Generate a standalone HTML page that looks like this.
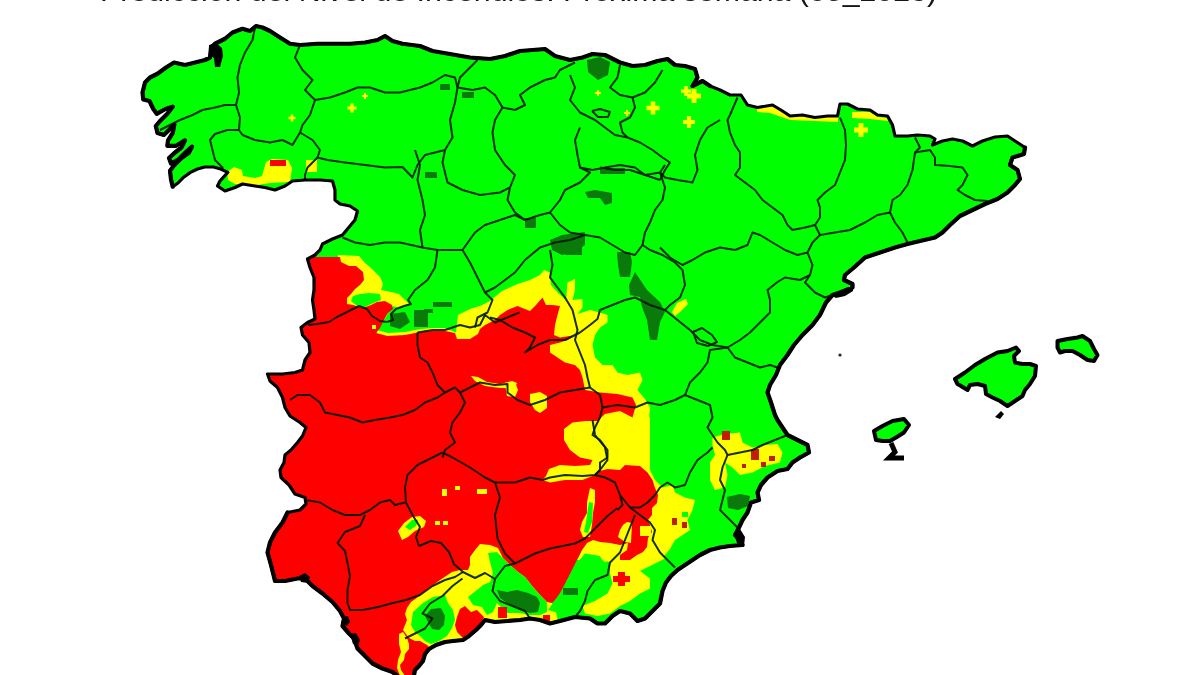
<!DOCTYPE html>
<html><head><meta charset="utf-8"><title>Mapa</title>
<style>html,body{margin:0;padding:0;background:#fff}body{width:1200px;height:675px;overflow:hidden;position:relative;font-family:"Liberation Sans",sans-serif}#t{position:absolute;left:100px;top:-25.2px;font-size:30.3px;line-height:32px;color:#151515;white-space:nowrap;letter-spacing:0px}svg{position:absolute;left:0;top:0}</style></head><body>
<div id="t">Predicción del Nivel de Incendios. Próxima semana (05_2023)</div>
<svg width="1200" height="675" viewBox="0 0 1200 675">
<defs><clipPath id="c"><polygon points="142.5,92.5 145,82.5 150,77.5 157.5,73.75 166,67.5 174,62.5 185,65 195,62.5 205,60 210,57.5 211,47.5 215,43.75 225,38.75 232.5,32.5 242.5,28.75 250,31 256,26 262.5,27.5 270,31 280,37.5 290,43.75 300,45 317.5,43.75 335,43.75 350,43.75 365,42.5 377.5,40 385,36 392.5,41 402.5,43.75 420,46 432.5,51 450,54 470,57.5 490,59 505,56 520,51 532.5,50 545,49 555,56 570,60 582.5,57.5 592.5,54 605,55 620,62.5 632.5,66 645,65 657.5,61 667.5,59 675,65 685,66 695,69 697.5,77.5 692.5,86 702.5,81 710,86 720,90 730,95 741,95 747.5,105 757.5,107.5 772.5,105 782.5,111 790,116 802.5,115 815,117.5 827.5,116 837.5,116 840,104 847.5,104 857.5,109 870,110 877.5,115 887.5,116 892.5,125 895,136 907.5,136 917.5,135 930,136 935,139 932.5,145 942.5,141 952.5,139 962.5,141 972.5,146 982.5,141 995,137 1007.5,136 1015,141 1025,147.5 1024,154 1012.5,157.5 1010,165 1017.5,170 1020,179 1015,185 1007.5,192.5 997.5,199 985,204 972.5,210 960,216 950,225 942.5,232.5 935,237.5 920,241 907.5,244 895,247.5 880,252.5 865,257.5 854,267.5 845,275 844,280 852.5,284 852.5,287.5 840,292.5 832.5,295 826,302.5 820,315 812.5,325 802.5,335 794,345 787.5,355 780,365 776,375 770,385 767.5,392.5 771,402.5 775,415 777.5,420 782.5,427.5 787.5,435 797.5,440 807.5,445 809,452.5 800,457.5 792.5,462.5 787.5,469 777.5,471 767.5,477.5 761,485 757.5,492.5 759,500 751,502.5 747.5,512.5 742.5,520 739,527.5 735,535 740,540 742.5,545 730,546 720,547.5 710,550 700,555 692.5,560 685,565 677.5,570 671,576 666,582.5 662.5,591 660,603.5 652.5,611 645,618.5 637.5,621 630,613.5 620,611 612.5,616 605,623.5 597.5,623.5 590,618.5 575,617 560,621 550,623.5 540,620 530,618.5 520,620 507.5,621 495,622 485,620 481,625 476,630 469,636 463,640 453,641 445,642 436,645 429,649 425,654 423,661 419,666 415,670 413,680 402.5,680 392.5,672 382.5,668.5 372.5,663.5 365,656 357.5,648.5 354,638.5 349,633.5 342.5,626 344,618.5 340,611 332.5,602 322.5,593.5 312.5,586 305,578.5 297.5,578.5 285,581 275,581 271,565 267.5,552.5 270,542.5 275,532.5 282.5,522.5 287.5,512.5 300,510 306,504 305,497.5 295,494 289,485 281,477.5 280,470 284,462.5 285,455 291,450 297.5,442.5 302.5,436 306,427.5 300,422.5 290,416 285,407.5 282.5,397.5 277.5,387.5 270,381 267.5,374 282.5,374 295,372.5 302.5,370 305,360 310,352.5 309,342.5 302.5,335 301,327.5 307.5,322.5 315,319 314,310 312.5,300 314,290 314,277.5 310,267.5 307.5,259 315,255 320,250 322.5,244 332.5,239 342.5,235 350,226 355,220 357.5,211 350,206 340,204 335,200 335,190 332.5,181 320,180 305,180 292.5,181 285,186 275,190 265,187.5 255,186 242.5,184 235,187.5 225,191 217.5,186 220,181 227.8,172.4 220.7,169 213.5,167 204.7,167 197.5,169 190.4,172.4 183,177.8 178,183 172.7,186.7 171,179.5 170,170.7 174.4,165 181.5,158 188.7,153 192,146.7 187,151 178,160 171,163.5 169,158 174.4,153 181.5,147.5 185,140.4 176,145.8 167.3,145.8 168,140.4 172.7,133 174.4,124.4 169,130 163.8,135 157.5,133 155.8,126 160,121 167.3,113.8 172.7,106.7 165.5,109 156.7,113.8 153,108.5 149.5,101 143.3,99.5"/></clipPath></defs>
<polygon points="142.5,92.5 145,82.5 150,77.5 157.5,73.75 166,67.5 174,62.5 185,65 195,62.5 205,60 210,57.5 211,47.5 215,43.75 225,38.75 232.5,32.5 242.5,28.75 250,31 256,26 262.5,27.5 270,31 280,37.5 290,43.75 300,45 317.5,43.75 335,43.75 350,43.75 365,42.5 377.5,40 385,36 392.5,41 402.5,43.75 420,46 432.5,51 450,54 470,57.5 490,59 505,56 520,51 532.5,50 545,49 555,56 570,60 582.5,57.5 592.5,54 605,55 620,62.5 632.5,66 645,65 657.5,61 667.5,59 675,65 685,66 695,69 697.5,77.5 692.5,86 702.5,81 710,86 720,90 730,95 741,95 747.5,105 757.5,107.5 772.5,105 782.5,111 790,116 802.5,115 815,117.5 827.5,116 837.5,116 840,104 847.5,104 857.5,109 870,110 877.5,115 887.5,116 892.5,125 895,136 907.5,136 917.5,135 930,136 935,139 932.5,145 942.5,141 952.5,139 962.5,141 972.5,146 982.5,141 995,137 1007.5,136 1015,141 1025,147.5 1024,154 1012.5,157.5 1010,165 1017.5,170 1020,179 1015,185 1007.5,192.5 997.5,199 985,204 972.5,210 960,216 950,225 942.5,232.5 935,237.5 920,241 907.5,244 895,247.5 880,252.5 865,257.5 854,267.5 845,275 844,280 852.5,284 852.5,287.5 840,292.5 832.5,295 826,302.5 820,315 812.5,325 802.5,335 794,345 787.5,355 780,365 776,375 770,385 767.5,392.5 771,402.5 775,415 777.5,420 782.5,427.5 787.5,435 797.5,440 807.5,445 809,452.5 800,457.5 792.5,462.5 787.5,469 777.5,471 767.5,477.5 761,485 757.5,492.5 759,500 751,502.5 747.5,512.5 742.5,520 739,527.5 735,535 740,540 742.5,545 730,546 720,547.5 710,550 700,555 692.5,560 685,565 677.5,570 671,576 666,582.5 662.5,591 660,603.5 652.5,611 645,618.5 637.5,621 630,613.5 620,611 612.5,616 605,623.5 597.5,623.5 590,618.5 575,617 560,621 550,623.5 540,620 530,618.5 520,620 507.5,621 495,622 485,620 481,625 476,630 469,636 463,640 453,641 445,642 436,645 429,649 425,654 423,661 419,666 415,670 413,680 402.5,680 392.5,672 382.5,668.5 372.5,663.5 365,656 357.5,648.5 354,638.5 349,633.5 342.5,626 344,618.5 340,611 332.5,602 322.5,593.5 312.5,586 305,578.5 297.5,578.5 285,581 275,581 271,565 267.5,552.5 270,542.5 275,532.5 282.5,522.5 287.5,512.5 300,510 306,504 305,497.5 295,494 289,485 281,477.5 280,470 284,462.5 285,455 291,450 297.5,442.5 302.5,436 306,427.5 300,422.5 290,416 285,407.5 282.5,397.5 277.5,387.5 270,381 267.5,374 282.5,374 295,372.5 302.5,370 305,360 310,352.5 309,342.5 302.5,335 301,327.5 307.5,322.5 315,319 314,310 312.5,300 314,290 314,277.5 310,267.5 307.5,259 315,255 320,250 322.5,244 332.5,239 342.5,235 350,226 355,220 357.5,211 350,206 340,204 335,200 335,190 332.5,181 320,180 305,180 292.5,181 285,186 275,190 265,187.5 255,186 242.5,184 235,187.5 225,191 217.5,186 220,181 227.8,172.4 220.7,169 213.5,167 204.7,167 197.5,169 190.4,172.4 183,177.8 178,183 172.7,186.7 171,179.5 170,170.7 174.4,165 181.5,158 188.7,153 192,146.7 187,151 178,160 171,163.5 169,158 174.4,153 181.5,147.5 185,140.4 176,145.8 167.3,145.8 168,140.4 172.7,133 174.4,124.4 169,130 163.8,135 157.5,133 155.8,126 160,121 167.3,113.8 172.7,106.7 165.5,109 156.7,113.8 153,108.5 149.5,101 143.3,99.5" fill="#00ff00"/>
<g clip-path="url(#c)">
<g fill="#ffff00">
<polygon points="338,255 359,256 364,262 372,269 380,277 383,284 381,290 391,292 399,294 405,300 409,304 404,306 399,308 393,306 375,334 340,320"/>
<polygon points="455,340 458,315 470,309 480,306 490,301 502,291 517.5,284 530,280 540,275 544,270 550,272.5 551,285 558,293 566,300 567.5,282.5 575,279 575,290 572.5,300 582.5,299 582.5,307.5 577.5,314 590,310 600,312.5 607.5,315 607.5,322.5 600,327.5 595,335 592.5,345 595,357.5 602.5,365 612.5,365 617.5,372.5 627.5,375 640,372.5 642.5,380 637.5,390 645,399 650,407.5 649,420 650,435 649,455 650,470 655,480 662.5,487.5 672.5,485 675,492.5 685,497.5 695,500 692.5,510 687.5,520 690,530 682.5,535 675,540 670,549 665,555 662,558 657.5,553.5 665,558.5 650,566 640,571 650,578.5 650,588.5 640,593.5 630,601 620,606 610,613.5 597.5,616 585,613.5 582.5,606 595,601 607.5,593.5 612.5,583.5 610,573.5 610,563 580,540 560,450 500,350"/>
<polygon points="552,603 547,600 540,593 533,585 525,575 518,570 510,563 503,556 498,546 490,543 480,542 474,549 468,557 468,568 460,568 452,570 443,576 433,583 425,589 418,595 410,600 405,608 403,614 405,620 403,625 401,630 400,640 440,660 500,640 560,630 556,612"/>
<polygon points="587,543 600,540 612,543 622,545 628,543 627,550 620,555 612,560 605,562 598,556 585,554 580,560 577,560 582,550"/>
<polygon points="712.5,437.5 725,434 740,432.5 742.5,442.5 752.5,447.5 765,445 777.5,444 782.5,452.5 780,462.5 765,466 752.5,472.5 740,475 732.5,467.5 725,462.5 727.5,475 725,487.5 715,490 710,480 710,462.5 715,455 712.5,445"/>
<polygon points="672,312 677,303 686,299 688,304 680,312 675,316"/>
<polygon points="227,172 234,167 242,170 243,176 255,178 262,176 266,162 272,159 288,160 292,168 290,182 270,183 250,186 235,184 228,180"/>
<polygon points="306,160 317,160 317,172 306,172"/>
<polygon points="377,330 388,333 405,332 418,329.5 430,328 445,328 457,333 465,333 465,338 377,338"/>
<polygon points="687,93.55 691.55,93.55 691.55,89 696.45,89 696.45,93.55 701,93.55 701,98.45 696.45,98.45 696.45,103 691.55,103 691.55,98.45 687,98.45"/>
<polygon points="681,89.25 684.25,89.25 684.25,86 687.75,86 687.75,89.25 691,89.25 691,92.75 687.75,92.75 687.75,96 684.25,96 684.25,92.75 681,92.75"/>
<polygon points="646.5,105.725 650.725,105.725 650.725,101.5 655.275,101.5 655.275,105.725 659.5,105.725 659.5,110.275 655.275,110.275 655.275,114.5 650.725,114.5 650.725,110.275 646.5,110.275"/>
<polygon points="683,119.9 686.9,119.9 686.9,116 691.1,116 691.1,119.9 695,119.9 695,124.1 691.1,124.1 691.1,128 686.9,128 686.9,124.1 683,124.1"/>
<polygon points="595,91.95 596.95,91.95 596.95,90 599.05,90 599.05,91.95 601,91.95 601,94.05 599.05,94.05 599.05,96 596.95,96 596.95,94.05 595,94.05"/>
<polygon points="624,111.95 625.95,111.95 625.95,110 628.05,110 628.05,111.95 630,111.95 630,114.05 628.05,114.05 628.05,116 625.95,116 625.95,114.05 624,114.05"/>
<polygon points="854,127.55 858.55,127.55 858.55,123 863.45,123 863.45,127.55 868,127.55 868,132.45 863.45,132.45 863.45,137 858.55,137 858.55,132.45 854,132.45"/>
<polygon points="347.5,106.425 350.425,106.425 350.425,103.5 353.575,103.5 353.575,106.425 356.5,106.425 356.5,109.575 353.575,109.575 353.575,112.5 350.425,112.5 350.425,109.575 347.5,109.575"/>
<polygon points="288.5,116.775 290.775,116.775 290.775,114.5 293.225,114.5 293.225,116.775 295.5,116.775 295.5,119.225 293.225,119.225 293.225,121.5 290.775,121.5 290.775,119.225 288.5,119.225"/>
<polygon points="362,94.95 363.95,94.95 363.95,93 366.05,93 366.05,94.95 368,94.95 368,97.05 366.05,97.05 366.05,99 363.95,99 363.95,97.05 362,97.05"/>
<polygon points="757,108 772,106 783,112 800,116 827,117 838,117 838,122 815,121 790,120 770,113 757,112"/>
<polygon points="852,112 870,112 878,117 888,118 888,121 870,119 852,118"/>
</g>
<g fill="#ff0000">
<polygon points="312,257 340,257 341,262 349,266 356,266 363,272 364,280 360,285 355,289 351,294 347,298 347,304 353,305 363,308 371,305 377,302 385,301 392,305 393,309 388,313 385,318 383,322 380,328 376,333 387.5,336 405,335 417.5,332.5 430,331 445,331 455,333 457,339 470,339 478,334 480,329 485,325 495,320 500,315 507.5,310 517.5,306 525,309 530,311 536,305 542.5,297.5 546,305 552.5,305 560,306 557.5,315 555,325 554,335 560,337.5 570,336 575,335 567.5,340 560,342.5 550,345 550,352.5 557.5,357.5 565,362.5 575,365 580,370 582.5,377.5 585,390 600,392.5 617.5,394 632.5,397.5 636,405 632.5,417.5 640,466 647.5,472.5 652.5,480 655,488 658,495 657,503 652,508 652,515 648,520 650,525 652,532 648,538 647,547 643,552 637,555 630,560 620,560 620,555 627,550 628,543 620,545 610,543 600,542 593,540 587,543 582,550 577,560 572,570 567,580 563,592 552,603 547,602 540,595 533,587 525,577 518,572 510,565 503,558 498,548 490,545 480,544 475,550 470,557 470,565 468,570 460,570 452,572 443,578 433,585 425,591 418,597 411,602 407,608 405,614 407,620 405,625 403,630 409,638 415,641 420,641 427,645 432,650 440,690 240,690 240,257"/>
</g>
<g fill="#ffff00">
<polygon points="564,429 572.5,422.5 585,421 597.5,421 605,414 620,411 632.5,417.5 650,417.5 650,467.5 640,466 625,465 620,470 607.5,469 600,471 592.5,476 582.5,480 565,480 550,482.5 542.5,480 546,476 549,469 560,465 575,466 590,465 592.5,460 580,457.5 570,450 564,440"/>
<polygon points="530,394 540,392 547,396 547,408 540,413 535,410 530,402"/>
<polygon points="505,384 515,382 518,390 515,397 507,396"/>
<polygon points="590,488 595,490 595,502 593,513 592,525 590,537 583,537 580,530 582,522 587,513 587,502"/>
<polygon points="627,522 632,523 631,543 625,542 618,537 620,530 623,525"/>
<polygon points="640,526 651,526 651,536 640,536"/>
<polygon points="399,634 403,632 407,638 409,644 409,649 405,654 404,660 400,665 401,670 405,676 400,676 397,668 398,660 401,652 399,644"/>
<polygon points="398,531 404,523 412,517 420,516 426,521 424,527 415,531 408,537 402,540"/>
<polygon points="442,489 447,489 447,496 442,496"/>
<polygon points="455,486 460,486 460,490 455,490"/>
<polygon points="477,489 487,489 487,494 477,494"/>
<polygon points="435,521 440,521 440,525 435,525"/>
<polygon points="443,521 448,521 448,525 443,525"/>
<polygon points="471,376 478,377 487,382 500,384 512,381 517,383 515,388 500,388 485,386 475,381"/>
<polygon points="287,323 293,323 293,327 287,327"/>
<polygon points="372,325 376,325 376,329 372,329"/>
</g>
<g fill="#00ff00">
<polygon points="351,301 353,296 360,294 369,293 380,294 381,300 376,302 369,305 363,308 356,305"/>
<polygon points="413,612 423,603 433,597 445,595 448,603 453,610 455,620 452,628 447,636 439,641 431,644 425,641 420,636 415,632 411,625"/>
<polygon points="468,597 477,590 483,585 490,582 493,573 490,562 488,553 497,552 503,558 510,565 518,572 525,577 533,587 540,595 547,602 547,612 540,615 530,615 520,613 507,613 497,603 493,612 487,615 482,607 473,605"/>
<polygon points="553,603 560,593 567,580 575,566 585,553.5 600,556 605,566 607.5,578.5 597.5,581 590,591 585,601 580,611 565,614 555,612 548,610"/>
<polygon points="589,502 593,503 592,522 588,533 584,532 586,522"/>
<polygon points="682,512 688,512 688,517 682,517"/>
<polygon points="405,527 412,520 418,520 416,526 410,530"/>
</g>
<g fill="#0a7a0a">
<polygon points="497,590 507,592 517,590 528,593 537,597 540,603 538,612 530,613 520,610 510,605 500,598"/>
<polygon points="431,609 441,608 445,616 444,625 439,630 432,629 428,622 425,616"/>
<polygon points="563,588 578,588 578,595 563,595"/>
<polygon points="552,240 560,240 566,246 582,246 582,255 566,255 560,250 552,250"/>
<polygon points="550,240 562,235 585,232 585,245 575,252 562,255 552,250"/>
<polygon points="617,252 630,252 632,262 630,277 620,277 618,265"/>
<polygon points="635,272 647,290 660,302 665,312 660,322 657,340 650,340 647,320 642,307 640,297 630,295 629,285"/>
<polygon points="585,192 595,190 612,193 612,203 605,205 600,198 588,198"/>
<polygon points="600,168 625,168 625,174 600,174"/>
<polygon points="525,218 536,218 536,228 525,228"/>
<polygon points="727,497 740,494 750,496 748,506 738,510 728,508"/>
<polygon points="414,310 428,310 428,327 414,327"/>
<polygon points="433,302 452,302 452,307 433,307"/>
<polygon points="424,309 433,309 433,313 424,313"/>
<polygon points="390,314 405,312 410,322 400,329 390,326"/>
<polygon points="587,60 600,57 610,62 608,75 598,80 588,72"/>
<polygon points="440,84 450,84 450,90 440,90"/>
<polygon points="462,92 474,92 474,98 462,98"/>
<polygon points="425,172 437,172 437,178 425,178"/>
</g>
<g fill="#ff0000">
<polygon points="460,609 465,606 471,612 477,610 484,617 481,624 475,630 468,637 463,638 457,632 455,625 457,617"/>
<polygon points="498,607 507,607 507,618 498,618"/>
<polygon points="543,615 550,615 550,622 543,622"/>
<polygon points="613,576 618,576 618,572 625,572 625,576 630,576 630,582 625,582 625,586 618,586 618,582 613,582"/>
<polygon points="270,160 286,160 286,166 270,166"/>
</g>
<g fill="#c02000">
<polygon points="722,431 730,431 730,440 722,440"/>
<polygon points="751,449 759,449 759,460 751,460"/>
<polygon points="769,456 775,456 775,461 769,461"/>
<polygon points="672,518 677,518 677,525 672,525"/>
<polygon points="682,522 687,522 687,528 682,528"/>
<polygon points="761,462 766,462 766,467 761,467"/>
<polygon points="742,464 746,464 746,468 742,468"/>
</g>
<g fill="none" stroke="#001800" stroke-opacity="0.9" stroke-width="2" stroke-linejoin="round">
<polyline points="255,27.5 252.5,40 245,52.5 240,65 237.5,77.5 239,92.5 236,105"/>
<polyline points="236,105 225,105 215,107.5 202.5,110 192.5,115 180,120 170,125 160,130"/>
<polyline points="236,105 240,117.5 239,130 242.5,135"/>
<polyline points="239,130 227.5,130 215,134 210,140 212.5,150 215,160 222.5,167.5 220,177.5"/>
<polyline points="242.5,135 255,140 270,142.5 282.5,140 292.5,145 300,132.5"/>
<polyline points="300,45 295,57.5 302.5,70 312.5,80 305,90 315,100 310,115 302.5,125 300,132.5"/>
<polyline points="315,100 330,97.5 345,92.5 357.5,87.5 370,87.5 385,92.5 400,92.5 420,87.5 432.5,82.5 445,75 455,77.5 457.5,87.5"/>
<polyline points="300,132.5 312.5,140 320,150 317.5,157.5 327.5,160 345,162.5 365,165 385,167.5 402.5,167 412.5,177.5 417.5,165 425,155 435,152.5 445,150"/>
<polyline points="317.5,157.5 307.5,167.5 305,175 305,180"/>
<polyline points="477.5,60 470,67.5 460,77.5 457.5,87.5"/>
<polyline points="457.5,87.5 455,102.5 450,120 452.5,137.5 445,150 442.5,162.5 447.5,182.5 462.5,190 480,195 500,192.5 510,187.5"/>
<polyline points="457.5,87.5 472.5,90 485,87.5 495,95 502.5,107.5 515,110 525,105 520,95 530,87.5 545,80 555,77.5 560,70 570,65 575,62.5"/>
<polyline points="502.5,107.5 495,120 492.5,132.5 495,150 505,165 515,175 510,187.5"/>
<polyline points="570,75 575,87.5 570,100 580,112.5 595,120 605,127.5 615,135 627.5,137.5"/>
<polyline points="620,65 617.5,77.5 610,87.5 620,95 632.5,97.5 645,92.5 655,82.5 662.5,70"/>
<polyline points="632.5,97.5 635,107.5 630,117.5 620,122.5 622.5,132.5 627.5,137.5"/>
<polyline points="592,111 600,109 610,112 608,117 598,117 592,111"/>
<polyline points="580,127.5 575,140 577.5,155 580,167.5 592.5,170 605,167.5 620,165 635,167.5 645,175 660,180"/>
<polyline points="627.5,137.5 640,142.5 652.5,150 662.5,157.5 670,162.5 665,170 660,180"/>
<polyline points="720,120 707.5,127.5 700,140 695,155 697.5,170 692.5,182.5 677.5,180 665,177.5 660,172.5"/>
<polyline points="580,167.5 590,172.5 580,182.5 565,190 560,200 550,212.5 540,215 525,220"/>
<polyline points="737.5,97.5 730,115 727.5,120 730,132.5 735,145 740,152.5 740,167.5 735,175 745,182.5 755,190 762.5,200 772.5,207.5 782.5,215 787.5,225 792.5,230 805,227.5 815,225 820,217.5 820,207.5 817.5,200 825,192.5 835,185 840,172.5 845,160 846,145 845,130 840,117.5"/>
<polyline points="915,137.5 920,147.5 915,152.5 912.5,170 907.5,185 900,195 892.5,200 890,212.5 895,222.5 902.5,232.5 907.5,242.5"/>
<polyline points="915,152.5 930,150 935,157.5 935,165 950,166 962.5,167.5 967.5,175 962.5,185 957.5,190 965,195 975,200 987.5,201"/>
<polyline points="660,247.5 670,257.5 682.5,265 692.5,260 705,252.5 720,247.5 735,250 747.5,245 752.5,232.5 760,235 772.5,242.5 785,250 797.5,255 807.5,252.5 812.5,242.5 820,235 835,232.5 850,230 865,222.5 877.5,215 890,212.5"/>
<polyline points="815,225 820,235"/>
<polyline points="807.5,252.5 812.5,265 810,275 800,280 785,277.5 777.5,282 767.5,290 770,300 770,312.5 760,322.5 750,332.5 740,340 727.5,347.5"/>
<polyline points="810,275 805,282.5 815,292.5 825,297.5 832.5,295"/>
<polyline points="415,150 420,165 417.5,180 422.5,200 425,215 420,230 422.5,247.5"/>
<polyline points="342.5,237.5 355,242.5 370,245 385,242.5 400,242.5 422.5,247.5 437.5,250 462.5,250"/>
<polyline points="462.5,250 475,232.5 485,225 500,220 515,215 525,220"/>
<polyline points="510,187.5 507.5,200 515,212.5 525,220"/>
<polyline points="600,167.5 615,170 630,170 645,175 660,172.5 665,165"/>
<polyline points="660,172.5 665,187.5 662.5,200 655,210 650,222.5 645,232.5 642.5,245 650,250 662.5,255 675,262.5 682.5,270 685,285 680,297.5 670,305 665,310 677.5,320 690,330 700,340 712.5,345 727.5,347.5"/>
<polyline points="550,212.5 560,225 570,232.5 585,235 600,237.5 612.5,245 625,252.5 635,255 642.5,245"/>
<polyline points="585,235 570,240 555,242.5 540,247.5 525,260 515,272.5 505,280 495,287.5 485,292.5"/>
<polyline points="462.5,250 470,262.5 477.5,277.5 485,292.5 492.5,300 487.5,312.5 477.5,317.5 475,327.5"/>
<polyline points="437.5,250 435,267.5 427.5,280 415,290 408,300 411,304 404,306 396,309 391,314 393,320 387,322"/>
<polyline points="387,322 380,321 372,316 367,309 359,306 353,309 345,313 337,317 329,322 317,324 308,325"/>
<polyline points="550,250 552.5,265 550,277.5 557.5,287.5 565,297.5 572.5,310 577.5,330 575,340 580,352.5 585,365 587.5,377.5 590,387.5"/>
<polyline points="665,310 650,305 635,297.5 625,300 612.5,305 600,310 597.5,319 590,325 580,332.5"/>
<polyline points="693,332 702,328 712,335 717,342 708,346 697,343 693,332"/>
<polyline points="727.5,347.5 735,357.5 747.5,362.5 760,367.5 770,365 777.5,367.5"/>
<polyline points="727.5,347.5 710,350 707.5,362.5 700,372.5 690,382.5 685,395"/>
<polyline points="685,395 675,400 660,405 647.5,402.5 635,407.5 617.5,405 602.5,407.5"/>
<polyline points="685,395 697.5,400 710,405 712.5,417.5 707.5,427.5 712.5,435 717.5,442.5 725,450 727.5,455"/>
<polyline points="727.5,455 740,452.5 752.5,450 762.5,445 775,440 787.5,435"/>
<polyline points="727.5,455 722.5,467.5 720,480 725,490 722.5,500 720,510 730,520 737.5,527.5"/>
<polyline points="712.5,447.5 707.5,452.5 697.5,460 690,472.5 685,485 675,487.5 667.5,482.5 660,487.5 655,495"/>
<polyline points="592.5,420 595,435 605,447.5 607.5,460 600,470 595,475"/>
<polyline points="590,387.5 600,395 602.5,407.5 600,417.5 595,427.5 592.5,435 600,440 607.5,450 607.5,457.5 600,462.5 600,470 595,475 582.5,476 565,475 550,477.5 542.5,480 530,477.5 515,482.5 495,482.5"/>
<polyline points="595,475 605,477.5 615,482.5 620,495 622.5,505 617.5,510"/>
<polyline points="620,495 630,507.5 640,515 650,522.5 655,530 652.5,540 660,552.5 670,562.5 675,567.5"/>
<polyline points="655,495 647.5,502.5 640,507.5 630,507.5"/>
<polyline points="635,515 630,527.5 625,540 620,552.5 610,562.5 607.5,575 595,580 587.5,591 585,601 580,611 575,617"/>
<polyline points="290,400 297.5,395 310,395 320,402.5 325,412.5 337.5,415 350,417.5 362.5,422.5 375,420 390,417.5 402.5,415 415,410 425,402.5 437.5,397.5 445,392.5 455,387.5 460,392.5 470,387.5"/>
<polyline points="417.5,332.5 417.5,345 420,357.5 427.5,362.5 432.5,372.5 437.5,385 445,392.5"/>
<polyline points="470,387.5 480,382.5 495,385 507.5,384 507.5,392.5 517.5,400 530,405 545,400 560,392.5 575,390 590,387.5"/>
<polyline points="460,392.5 465,402.5 460,412.5 452.5,422.5 450,432.5 455,442.5 445,450 442.5,457.5"/>
<polyline points="519.5,312.5 495,322.5 485,315 480,325 470,327.5 460,325 445,330 432.5,330 417.5,332.5"/>
<polyline points="490,317.5 500,320 512.5,327.5 525,332.5 535,337.5 530,347.5 525,352.5 537.5,345 550,340 565,340 575,335 580,332.5"/>
<polyline points="306,500 320,502.5 332.5,510 345,515 360,515 370,510 380,502.5 390,500 395,505 405,502.5"/>
<polyline points="442.5,452.5 432.5,457.5 417.5,465 407.5,475 405,487.5 406,502.5"/>
<polyline points="442.5,452.5 452.5,457.5 470,467.5 485,477.5 495,482.5"/>
<polyline points="495,482.5 500,497.5 495,515 497.5,538.5 505,553.5 515,563.5 525,558.5 535,553.5 550,548.5 562.5,546 575,543.5 585,538.5 592.5,531 600,523.5 607.5,516 617.5,508"/>
<polyline points="406,502.5 412.5,515 420,527 416,537 419,546 431,541 441,543 449,552 454,564 463,572 475,578 485,573 495,579 505,566 515,563.5"/>
<polyline points="365,515 360,526 345,532 337.5,543 345,551 347.5,563 350,576 347.5,590 347.5,603 350,610 362.5,610 378,607 393,603 406,600 420,595 432.5,586 445,580 455,577 463,572"/>
<polyline points="495,579 492.5,591 500,601 512.5,606 525,611 530,618.5"/>
<polyline points="462.5,578.5 452.5,586 442.5,596 430,603.5 422.5,613.5 432.5,618.5 425,628.5 415,633.5 405,638.5"/>
</g>
</g>
<polygon points="142.5,92.5 145,82.5 150,77.5 157.5,73.75 166,67.5 174,62.5 185,65 195,62.5 205,60 210,57.5 211,47.5 215,43.75 225,38.75 232.5,32.5 242.5,28.75 250,31 256,26 262.5,27.5 270,31 280,37.5 290,43.75 300,45 317.5,43.75 335,43.75 350,43.75 365,42.5 377.5,40 385,36 392.5,41 402.5,43.75 420,46 432.5,51 450,54 470,57.5 490,59 505,56 520,51 532.5,50 545,49 555,56 570,60 582.5,57.5 592.5,54 605,55 620,62.5 632.5,66 645,65 657.5,61 667.5,59 675,65 685,66 695,69 697.5,77.5 692.5,86 702.5,81 710,86 720,90 730,95 741,95 747.5,105 757.5,107.5 772.5,105 782.5,111 790,116 802.5,115 815,117.5 827.5,116 837.5,116 840,104 847.5,104 857.5,109 870,110 877.5,115 887.5,116 892.5,125 895,136 907.5,136 917.5,135 930,136 935,139 932.5,145 942.5,141 952.5,139 962.5,141 972.5,146 982.5,141 995,137 1007.5,136 1015,141 1025,147.5 1024,154 1012.5,157.5 1010,165 1017.5,170 1020,179 1015,185 1007.5,192.5 997.5,199 985,204 972.5,210 960,216 950,225 942.5,232.5 935,237.5 920,241 907.5,244 895,247.5 880,252.5 865,257.5 854,267.5 845,275 844,280 852.5,284 852.5,287.5 840,292.5 832.5,295 826,302.5 820,315 812.5,325 802.5,335 794,345 787.5,355 780,365 776,375 770,385 767.5,392.5 771,402.5 775,415 777.5,420 782.5,427.5 787.5,435 797.5,440 807.5,445 809,452.5 800,457.5 792.5,462.5 787.5,469 777.5,471 767.5,477.5 761,485 757.5,492.5 759,500 751,502.5 747.5,512.5 742.5,520 739,527.5 735,535 740,540 742.5,545 730,546 720,547.5 710,550 700,555 692.5,560 685,565 677.5,570 671,576 666,582.5 662.5,591 660,603.5 652.5,611 645,618.5 637.5,621 630,613.5 620,611 612.5,616 605,623.5 597.5,623.5 590,618.5 575,617 560,621 550,623.5 540,620 530,618.5 520,620 507.5,621 495,622 485,620 481,625 476,630 469,636 463,640 453,641 445,642 436,645 429,649 425,654 423,661 419,666 415,670 413,680 402.5,680 392.5,672 382.5,668.5 372.5,663.5 365,656 357.5,648.5 354,638.5 349,633.5 342.5,626 344,618.5 340,611 332.5,602 322.5,593.5 312.5,586 305,578.5 297.5,578.5 285,581 275,581 271,565 267.5,552.5 270,542.5 275,532.5 282.5,522.5 287.5,512.5 300,510 306,504 305,497.5 295,494 289,485 281,477.5 280,470 284,462.5 285,455 291,450 297.5,442.5 302.5,436 306,427.5 300,422.5 290,416 285,407.5 282.5,397.5 277.5,387.5 270,381 267.5,374 282.5,374 295,372.5 302.5,370 305,360 310,352.5 309,342.5 302.5,335 301,327.5 307.5,322.5 315,319 314,310 312.5,300 314,290 314,277.5 310,267.5 307.5,259 315,255 320,250 322.5,244 332.5,239 342.5,235 350,226 355,220 357.5,211 350,206 340,204 335,200 335,190 332.5,181 320,180 305,180 292.5,181 285,186 275,190 265,187.5 255,186 242.5,184 235,187.5 225,191 217.5,186 220,181 227.8,172.4 220.7,169 213.5,167 204.7,167 197.5,169 190.4,172.4 183,177.8 178,183 172.7,186.7 171,179.5 170,170.7 174.4,165 181.5,158 188.7,153 192,146.7 187,151 178,160 171,163.5 169,158 174.4,153 181.5,147.5 185,140.4 176,145.8 167.3,145.8 168,140.4 172.7,133 174.4,124.4 169,130 163.8,135 157.5,133 155.8,126 160,121 167.3,113.8 172.7,106.7 165.5,109 156.7,113.8 153,108.5 149.5,101 143.3,99.5" fill="none" stroke="#000" stroke-width="3.2" stroke-linejoin="round"/>
<polyline points="172.7,186.7 171,179.5 170,170.7 174.4,165 181.5,158 188.7,153 192,146.7 187,151 178,160 171,163.5 169,158 174.4,153 181.5,147.5 185,140.4 176,145.8 167.3,145.8 168,140.4 172.7,133 174.4,124.4 169,130 163.8,135 157.5,133 155.8,126 160,121 167.3,113.8 172.7,106.7 165.5,109 156.7,113.8 153,108.5 149.5,101 143.3,99.5 142.5,92.5 145,82.5 150,77.5 157.5,73.75 166,67.5 174,62.5 185,65 195,62.5 205,60 210,57.5 211,47.5 215,43.75 225,38.75 232.5,32.5 242.5,28.75 250,31 256,26 262.5,27.5 270,31 280,37.5 290,43.75 300,45 317.5,43.75 335,43.75 350,43.75 365,42.5 377.5,40 385,36 392.5,41 402.5,43.75 420,46 432.5,51 450,54 470,57.5 490,59 505,56 520,51 532.5,50 545,49 555,56 570,60 582.5,57.5 592.5,54 605,55 620,62.5 632.5,66 645,65 657.5,61 667.5,59 675,65 685,66 695,69 697.5,77.5 692.5,86 702.5,81 710,86" fill="none" stroke="#000" stroke-width="4.2" stroke-linejoin="round" stroke-linecap="round"/>
<polyline points="1025,147.5 1024,154 1012.5,157.5 1010,165 1017.5,170 1020,179 1015,185 1007.5,192.5 997.5,199 985,204 972.5,210 960,216 950,225 942.5,232.5 935,237.5 920,241 907.5,244 895,247.5 880,252.5 865,257.5 854,267.5 845,275 844,280 852.5,284 852.5,287.5 840,292.5 832.5,295 826,302.5 820,315 812.5,325 802.5,335 794,345 787.5,355 780,365 776,375 770,385 767.5,392.5 771,402.5 775,415 777.5,420 782.5,427.5 787.5,435 797.5,440 807.5,445 809,452.5 800,457.5 792.5,462.5 787.5,469 777.5,471 767.5,477.5 761,485 757.5,492.5 759,500 751,502.5 747.5,512.5 742.5,520 739,527.5 735,535 740,540 742.5,545 730,546 720,547.5 710,550 700,555 692.5,560 685,565 677.5,570 671,576 666,582.5 662.5,591 660,603.5 652.5,611 645,618.5 637.5,621 630,613.5 620,611 612.5,616 605,623.5 597.5,623.5 590,618.5 575,617 560,621 550,623.5 540,620 530,618.5 520,620 507.5,621 495,622 485,620 481,625 476,630 469,636 463,640 453,641 445,642 436,645 429,649 425,654 423,661 419,666 415,670 413,680 402.5,680 392.5,672 382.5,668.5 372.5,663.5 365,656 357.5,648.5 354,638.5 349,633.5 342.5,626 344,618.5 340,611 332.5,602 322.5,593.5 312.5,586 305,578.5 297.5,578.5 285,581 275,581 271,565 267.5,552.5 270,542.5 275,532.5 282.5,522.5 287.5,512.5" fill="none" stroke="#000" stroke-width="4.2" stroke-linejoin="round" stroke-linecap="round"/>
<polygon points="955,379 965,372.5 975,365 985,359 997.5,352.5 1007.5,351 1016,347.5 1019,351 1014,356 1015,362.5 1022.5,364 1030,364 1036,366 1035,376 1030,384 1025,390 1022.5,396 1015,401 1007.5,406 1000,401 992.5,397.5 986,394 985,386 977.5,384 970,385 967.5,390 961,386 957.5,384" fill="#00ff00" stroke="#000" stroke-width="4" stroke-linejoin="round"/>
<polygon points="1057.5,341 1067.5,339 1077.5,337.5 1082.5,336 1090,341 1094,349 1097.5,355 1094,361 1087.5,360 1080,355 1072.5,351 1065,351 1060,352.5 1057.5,347.5" fill="#00ff00" stroke="#000" stroke-width="4" stroke-linejoin="round"/>
<polygon points="874,431 882.5,426 892.5,421 904,419 909,425 904,432.5 896,437.5 890,441 882.5,441 876,440" fill="#00ff00" stroke="#000" stroke-width="4" stroke-linejoin="round"/>
<polyline points="891,443 895,452 889,458 904,458" fill="none" stroke="#000" stroke-width="5"/>
<polygon points="995,417 1001,411 1004,414 1000,419" fill="#000"/>
<polygon points="734,534 740,529 745,537 744,546 737,543" fill="#000"/>
<polygon points="209,45 216,43 222,48 223,56 220,67 215,67 214,58 209,55" fill="#000"/>
<polygon points="832,296 840,291 853,287 853,291 845,296 836,298" fill="#000"/>
<polygon points="299,576 305,573 310,577 308,583 301,582" fill="#000"/>
<polygon points="350,634 356,633 360,640 358,646 353,644" fill="#000"/>
<polygon points="342,617 348,616 350,622 347,626 343,624" fill="#000"/>
<circle cx="840" cy="355" r="1.6" fill="#222"/>
</svg>
</body></html>
